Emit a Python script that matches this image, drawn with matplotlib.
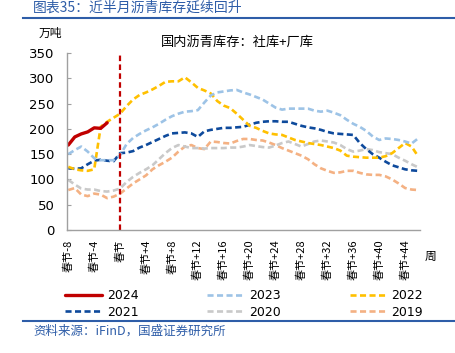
import matplotlib.pyplot as plt
import numpy as np

plt.rcParams['font.family'] = ['Noto Sans CJK SC', 'DejaVu Sans']

# 周序号：春节前8周 ~ 春节后46周
weeks = list(range(-8, 47))
tick_weeks = list(range(-8, 45, 4))
tick_labels = ['春节' if w == 0 else f'春节{w:+d}' for w in tick_weeks]

s2024 = [168, 184, 190, 194, 202, 201, 212]

s2023 = [150, 158, 165, 155, 142, 138, 138, 138, 148, 170, 182, 190, 197, 203, 210,
         218, 225, 230, 234, 235, 237, 252, 266, 272, 274, 276, 277, 272, 268, 263,
         258, 250, 242, 238, 240, 240, 240, 240, 236, 234, 236, 232, 227, 218, 210,
         204, 196, 185, 178, 181, 180, 178, 175, 171, 181]

s2022 = [125, 120, 118, 117, 120, 204, 214, 222, 230, 245, 258, 267, 272, 278, 285,
         293, 294, 294, 302, 292, 281, 276, 270, 255, 246, 241, 230, 218, 206, 202,
         196, 191, 189, 188, 183, 178, 175, 172, 170, 168, 165, 162, 157, 147, 145,
         144, 143, 143, 143, 146, 152, 162, 172, 165, 146]

s2021 = [122, 121, 122, 130, 137, 139, 137, 136, 152, 153, 156, 163, 168, 174, 180,
         186, 191, 192, 193, 191, 184, 195, 198, 200, 202, 202, 203, 204, 208, 212,
         214, 215, 215, 214, 214, 210, 206, 203, 201, 198, 194, 191, 190, 189, 188,
         172, 160, 150, 143, 135, 128, 124, 120, 118, 117]

s2020 = [99, 90, 82, 80, 80, 77, 76, 78, 82, 95, 105, 113, 120, 128, 140,
         152, 162, 168, 165, 162, 162, 161, 162, 162, 162, 163, 163, 165, 168, 166,
         164, 163, 167, 172, 175, 170, 165, 170, 175, 177, 175, 173, 168, 160, 155,
         157, 160, 158, 154, 152, 150, 143, 137, 130, 124]

s2019 = [79, 83, 70, 67, 72, 70, 63, 66, 72, 82, 92, 100, 108, 120, 128,
         135, 143, 155, 165, 168, 162, 160, 175, 174, 172, 171, 176, 180, 180, 178,
         177, 173, 168, 162, 157, 152, 147, 140, 130, 122, 117, 113, 114, 117, 117,
         113, 110, 109, 109, 106, 100, 92, 83, 80, 79]

W, H = 456, 353
fig = plt.figure(figsize=(W / 100, H / 100), dpi=100)
ax = fig.add_axes([67 / W, 1 - 230 / H, (420 - 67) / W, (230 - 53) / H])

dash = (2.3, 1.3)
lw = 1.9
# 绘制顺序：旧年份在下
ax.plot(weeks, s2019, color='#F4B183', lw=lw, dashes=dash, label='2019')
ax.plot(weeks, s2020, color='#C9C9C9', lw=lw, dashes=dash, label='2020')
ax.plot(weeks, s2021, color='#0E4A9C', lw=lw, dashes=dash, label='2021')
ax.plot(weeks, s2022, color='#FFC000', lw=lw, dashes=dash, label='2022')
ax.plot(weeks, s2023, color='#9DC3E6', lw=lw, dashes=dash, label='2023')
ax.plot(weeks[:len(s2024)], s2024, color='#C00000', lw=2.4, solid_capstyle='round', label='2024')

# 春节分界线
ax.axvline(0, color='#C00000', lw=1.6, dashes=(2.5, 1.5))

ax.set_xlim(-8.2, 46.3)
ax.set_ylim(0, 350)
ax.set_yticks(np.arange(0, 351, 50))
ax.set_xticks(tick_weeks)
ax.set_xticklabels(tick_labels, rotation=90, fontsize=8)
ax.tick_params(axis='x', length=0, pad=7)
ax.tick_params(axis='y', direction='in', length=3, color='#A0A0A0', labelsize=9.5, pad=9)
for lab in ax.get_yticklabels():
    lab.set_fontfamily('DejaVu Sans')

for side in ['top', 'right']:
    ax.spines[side].set_visible(False)
for side in ['left', 'bottom']:
    ax.spines[side].set_color('#A0A0A0')
    ax.spines[side].set_linewidth(1)

# 图例
h, l = ax.get_legend_handles_labels()
order = {'2024': 0, '2021': 1, '2023': 2, '2020': 3, '2022': 4, '2019': 5}
pairs = sorted(zip(h, l), key=lambda p: order[p[1]])
leg = fig.legend([p[0] for p in pairs], [p[1] for p in pairs], ncol=3, frameon=False,
                 loc='upper left', bbox_to_anchor=(60 / W, 1 - 284 / H),
                 fontsize=9, handlelength=3.0, handletextpad=0.35,
                 columnspacing=5.5, labelspacing=0.3, borderaxespad=0)
for t in leg.get_texts():
    t.set_fontfamily('DejaVu Sans')

blue = '#2E5DA8'
fig.text(33 / W, 1 - 8 / H, '图表35：近半月沥青库存延续回升', color=blue, fontsize=10,
         style='italic', va='center', ha='left')
fig.add_artist(plt.Line2D([23 / W, 1], [1 - 18 / H, 1 - 18 / H], color=blue, lw=1.5))
fig.add_artist(plt.Line2D([23 / W, 1], [1 - 321 / H, 1 - 321 / H], color=blue, lw=1.5))
fig.text(33 / W, 1 - 331 / H, '资料来源：iFinD，国盛证券研究所', color=blue, fontsize=9,
         style='italic', va='center', ha='left')

fig.text(50 / W, 1 - 33 / H, '万吨', fontsize=8.5, va='center', ha='center')
fig.text(237 / W, 1 - 42 / H, '国内沥青库存：社库+厂库', fontsize=9.5, va='center', ha='center')
fig.text(431 / W, 1 - 256 / H, '周', fontsize=8.5, va='center', ha='center')

fig.savefig('out.png', dpi=100)
